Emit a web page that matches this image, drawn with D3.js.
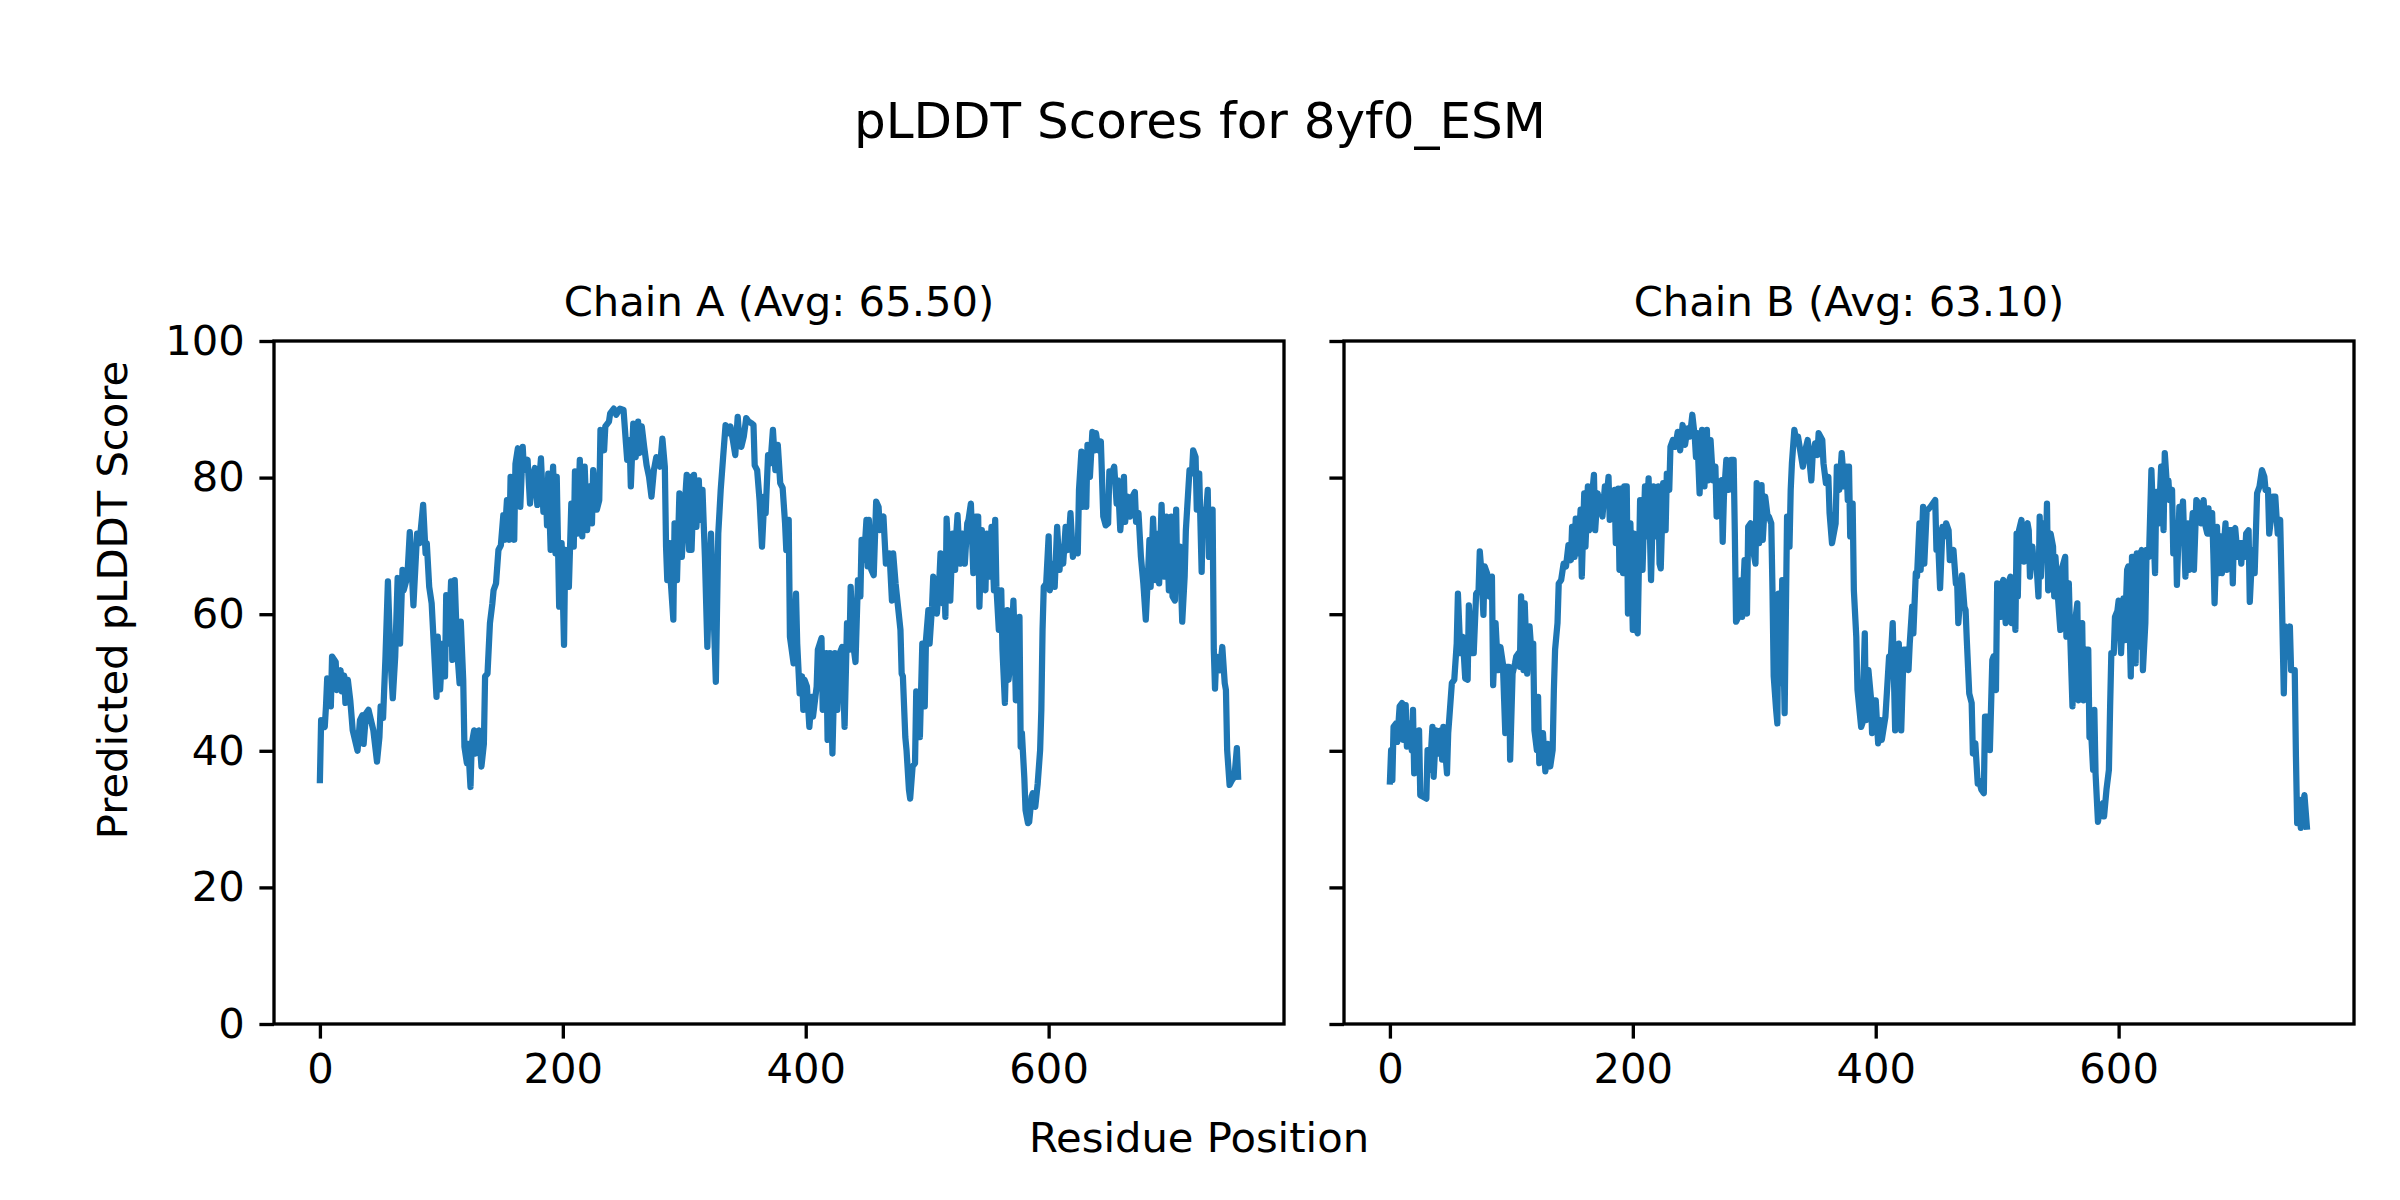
<!DOCTYPE html>
<html><head><meta charset="utf-8">
<script src="https://cdn.jsdelivr.net/npm/d3@7"></script>
<style>body{margin:0;background:#fff}svg{display:block}</style>
</head><body>
<svg id="chart" width="2400" height="1200"></svg>
<script>
const figTitle = "pLDDT Scores for 8yf0_ESM";
const chainTitles = ["Chain A (Avg: 65.50)", "Chain B (Avg: 63.10)"];
const xLabel = "Residue Position";
const yLabel = "Predicted pLDDT Score";
const xTicks = [0, 200, 400, 600];
const yTicks = [0, 20, 40, 60, 80, 100];

// [residue, pLDDT]
const chainA = [[0,35.7],[1,44.5],[4,43.5],[5,46.5],[6,50.6],[9,46.5],[10,53.8],[13,53],[14,48.9],[17,51.8],[18,48.7],[20,51],[21,47],[23,50.4],[25,47.4],[27,43],[31,40],[33,44.5],[35,45.2],[36,41],[38,45.5],[40,46],[44,43],[47,38.4],[49,42],[50,46.5],[52,44.8],[54,53.8],[56,64.8],[58,53.8],[60,47.7],[62,53.8],[64,65.3],[66,55.7],[68,66.5],[69,63.5],[72,65.5],[74,72],[76,65],[77,61.3],[80,71.8],[82,70.4],[85,76],[87,68.9],[88,70.4],[90,64],[92,61.6],[94,54.8],[96,47.9],[97,56.7],[99,49],[101,55.7],[103,50.9],[104,62.8],[106,55.7],[108,64.8],[109,53.3],[111,65],[113,54.8],[115,49.9],[116,58.9],[118,50.4],[119,40.6],[121,38.2],[122,41],[124,34.7],[125,41],[127,43],[128,39.6],[131,43],[133,37.7],[135,41],[136,50.9],[138,51.3],[140,58.7],[142,61.6],[143,63.5],[145,64.5],[147,69.4],[149,70.1],[151,74.5],[152,70.9],[154,76.7],[156,70.9],[157,80.1],[160,70.9],[161,82],[163,84.3],[165,75.7],[167,84.5],[168,81.1],[171,82.6],[173,76.2],[175,80.1],[177,81.4],[179,76],[182,82.8],[184,75],[186,78.2],[187,73],[188,80.6],[190,69.4],
[191,77.7],[192,81.6],[194,68.9],[195,80.1],[197,61.1],[199,70.4],[201,55.5],[202,69.4],[205,64],[207,76.2],[209,69.9],[210,80.9],[212,71.8],[214,82.6],[216,71.4],[218,81.6],[220,72.3],[222,78.7],[224,73.3],[225,81.1],[228,75.3],[230,76.7],[231,87],[234,84],[235,87.5],[238,88.2],[239,89.4],[242,90.1],[244,89.2],[247,90.1],[250,89.9],[252,85],[253,82.6],[255,85.5],[256,78.7],[258,87.9],[260,83],[262,88.2],[263,83.6],[265,87.5],[267,84.5],[269,81.8],[271,80.1],[273,77.2],[275,81.1],[277,83],[280,81.6],[282,85.7],[284,81.6],[285,69.9],[286,65],[288,70.4],[289,64.5],[291,59.2],[292,73.3],[294,65],[296,77.7],[298,68.4],[300,74.8],[302,80.4],[304,69.4],[305,80.1],[306,69.4],[308,80.4],[310,72.8],[312,79.6],[313,73.8],[315,78.2],[317,68.4],[319,55.2],[320,61.1],[322,71.8],[324,61.1],[326,50.1],[328,71.8],[330,78.2],[332,83],[334,87.7],[336,86.5],[338,87.5],[340,85.5],[342,83.3],[344,88.9],[345,86.5],[347,84.5],[349,86],[351,88.7],[353,88.2],[355,88],[357,87.7],[358,81.8],[360,81.1],[362,76.7],[364,69.9],[366,77.2],[367,74.8],[369,83.3],[371,82.1],[373,87],[375,81.1],[377,84.8],[379,79.2],[381,78.5],[383,73.3],[384,69.4],[386,73.8],[387,56.7],
[390,52.8],[392,63],[393,55.7],[395,48.4],[397,50.9],[398,46],[399,50.4],[401,49.4],[403,43.5],[405,47.9],[406,45],[409,49.4],[410,54.8],[413,56.5],[414,46],[417,54.3],[418,41.6],[420,54.3],[422,39.6],[424,54.3],[426,46],[428,54.3],[430,55.2],[432,43.5],[434,58.7],[436,54.8],[437,64],[439,55.7],[441,53],[443,65],[445,62.6],[446,70.9],[448,67.9],[450,73.8],[451,67],[452,73.8],[454,66.5],[456,65.7],[458,76.5],[460,75.7],[461,72.3],[462,73.8],[464,74.3],[466,67.4],[469,68.9],[471,62],[472,68.9],[474,64.5],[476,61.1],[478,57.7],[479,51.3],[480,50.9],[482,42],[483,40.1],[485,34.3],[486,33],[488,37.7],[490,38.2],[491,48.7],[493,48.4],[494,42],[496,55.7],[498,46.5],[499,56.2],[501,60.6],[502,55.7],[504,61.1],[505,65.5],[506,64.5],[508,60.1],[510,65],[511,68.9],[513,61.6],[514,65.5],[515,59.6],[516,74],[518,67],[519,62],[521,71.8],[523,66.5],[524,71.8],[525,74.5],[527,67.4],[529,71.8],[531,67.4],[533,73.3],[534,73.8],[536,76.2],[538,66],[539,72.3],[540,74.3],[542,74.3],[543,61.1],[545,72.3],[546,65.5],[548,63.5],[549,71.8],[551,65.5],[553,72.8],[555,63.5],[556,73.8],[557,64],[559,57.7],[561,63.5],[562,54.8],[564,47],[566,60.6],[567,50.4],[569,53.8],[571,62],[572,56.2],[573,47.4],[576,59.6],[577,40.6],[578,42.6],[580,36],[581,31.3],[583,29.4],
[584,29.6],[586,33.3],[587,33.8],[589,31.8],[591,35.2],[593,40.1],[594,46],[595,57.7],[596,64],[598,64.5],[600,71.4],[601,63.5],[604,67.4],[605,64],[607,72.8],[609,66.5],[610,69.9],[612,67.4],[614,72.8],[616,69.4],[618,74.8],[620,68.4],[622,70.4],[624,68.9],[625,78.2],[627,83.8],[628,75.7],[630,83.1],[631,75.7],[632,84.8],[634,80.1],[636,86.7],[638,84],[639,86.5],[641,84],[643,85.3],[645,74.3],[647,73],[649,73.3],[650,80.9],[652,80.6],[654,81.6],[656,76.2],[657,79.6],[659,72.3],[661,76.7],[662,80.1],[663,73.5],[665,77.2],[667,74.3],[669,77.2],[671,77.9],[672,73.5],[674,74.8],[676,68.4],[678,64.5],[680,59.2],[682,66.5],[683,70.9],[684,64],[686,74],[688,65],[690,71.8],[691,64.5],[693,76],[695,65.5],[697,74.3],[699,63.5],[701,74.3],[702,62.6],[704,62],[705,75.3],[706,64.5],[708,69.9],[710,58.9],[712,65.5],[713,72.3],[715,78.2],[716,81.1],[718,80.6],[719,84],[721,83],[722,75.3],[724,80.6],[726,66.2],[727,75.3],[729,73.3],[731,78.2],[732,68.4],[735,75.3],[736,54.8],[737,49.1],[738,53.8],[741,51.8],[743,55.2],[745,49.9],[746,48.9],[747,40.1],[749,35],[751,35.7],[753,36.2],[755,40.4],[756,36.2]];

const chainB = [[0,35.5],[1,40.1],[2,35.7],[3,43.5],[5,44],[6,41.3],[8,46.5],[10,47],[11,41.6],[13,46.7],[14,40.6],[16,44],[18,40.1],[19,46],[20,36.7],[22,40.1],[24,43],[25,33.5],[27,33.3],[30,33],[31,40.1],[33,37.2],[35,43.5],[36,36.2],[38,43],[40,39.6],[42,43],[43,38.7],[44,43.5],[47,36.7],[48,42.6],[49,45],[51,49.9],[53,50.4],[55,55.7],[56,63],[58,54.3],[60,56.7],[62,50.6],[64,50.4],[65,61.3],[67,54.3],[69,54.3],[71,63],[73,63.5],[74,69.2],[75,67],[77,59.9],[78,67],[80,66],[82,62.6],[84,65.5],[85,49.6],[87,58.7],[89,51.8],[91,55.2],[93,52.8],[95,42.6],[96,52.3],[98,52.3],[99,38.7],[101,51.3],[103,52.8],[104,53.8],[106,54.3],[107,52.3],[108,62.6],[110,51.8],[111,61.6],[113,51.3],[115,58.2],[116,55.7],[118,55.7],[119,43],[121,40.1],[122,47.9],[123,38.2],[125,42.6],[126,42.6],[128,37],[130,41],[132,37.7],[134,40.1],[135,48.9],[136,54.8],[138,58.7],[139,64.5],[141,65],[143,67.4],[145,67],[147,70.1],[149,67.9],[150,72.8],[152,68.4],[153,74],[155,68.9],[157,75.3],[158,65.5],[160,77.7],[161,69.9],[163,78.7],[164,72.3],[166,76.7],[168,80.4],[169,72.3],[171,77.7],[173,76.2],[175,74.3],[177,78.7],[179,78.2],[180,80.1],[181,73.8],[183,76.7],[185,78.2],[186,70.4],[188,78.4],[189,66.5],
[190,78.4],[192,66],[193,78.7],[195,78.7],[196,60.1],[198,73.3],[200,57.7],[201,71.8],[203,57.7],[204,57.2],[206,76.7],[208,66.5],[210,78.7],[211,71.4],[213,79.9],[215,65],[217,78.7],[219,71.4],[221,78.7],[222,67.4],[223,66.7],[225,79.2],[227,72.3],[228,80.6],[230,78.2],[231,84.5],[233,85.5],[235,84.5],[237,86.7],[239,84],[241,87.7],[243,84.8],[245,87.2],[247,86],[249,89.2],[251,86],[252,83],[253,86.5],[255,77.7],[257,87],[259,78.7],[261,87],[262,79.6],[264,85.5],[266,79.6],[268,81.6],[269,74.3],[271,79.2],[273,79.6],[274,70.6],[275,77.2],[277,82.6],[279,78.2],[281,82.6],[283,82.6],[284,71.8],[285,58.9],[287,59.6],[289,65],[290,59.6],[292,67.9],[294,60.1],[295,72.8],[297,73.3],[299,69.4],[301,67.4],[302,79.2],[304,70.4],[306,78.9],[307,70.9],[309,77.2],[311,74.3],[312,74.3],[314,73.3],[315,63.5],[316,50.9],[318,46],[319,44],[320,63],[322,49.9],[323,65],[325,45.5],[327,74.3],[329,69.9],[330,78.2],[331,82.1],[333,87],[335,85],[336,86],[338,83.8],[340,81.6],[342,84],[344,85.5],[345,83.3],[347,79.6],[348,83],[350,85],[352,83.3],[353,86.5],[356,85.5],[357,82.1],[359,79.2],[361,80.1],[362,74.8],[364,70.4],[367,73.3],[368,81.6],[370,78.2],[372,83.6],[374,78.7],[376,81.6],[377,76.7],[378,81.6],[379,71.4],[381,76.2],[382,63.5],[384,56.7],[385,48.9],
[388,43.5],[389,44],[391,57.2],[392,44.5],[394,51.8],[396,47.9],[397,42.6],[399,47.4],[400,47.4],[402,41.1],[404,44.5],[405,41.6],[408,45],[410,50.9],[411,53.8],[412,52.3],[414,58.7],[416,43],[418,54.3],[419,55.7],[421,43],[423,54.8],[425,54.8],[427,51.8],[428,55.7],[430,61.1],[431,57.2],[433,66],[434,65.5],[436,73.3],[437,66.5],[439,75.7],[440,67.4],[442,75.3],[443,75.3],[445,75.7],[447,76.2],[449,76.7],[450,69.4],[451,72.3],[453,63.8],[455,72.8],[457,71.4],[458,73.3],[460,72.3],[461,67.9],[462,68.9],[464,69.4],[466,64.5],[467,65],[468,58.7],[471,65.7],[473,61.1],[474,60.6],[475,56.2],[477,48.4],[479,47],[480,39.6],[482,41.1],[484,35.2],[485,35.7],[487,34.3],[489,33.8],[490,45],[493,45],[494,40.1],[496,53.3],[497,53.8],[499,48.9],[500,64.5],[501,64],[503,59.6],[504,64.5],[505,65],[507,58.7],[509,64.5],[511,65.5],[512,58.7],[514,63.5],[515,57.7],[516,71.8],[517,62.6],[518,72.3],[520,73.8],[522,67.7],[523,72.8],[525,73.3],[526,72.3],[527,65.5],[529,69.9],[530,67.4],[532,68.4],[534,62.6],[535,74.3],[536,65.5],[538,73.3],[540,68.4],[541,76.2],[542,63.5],[544,71.8],[546,69.9],[547,62.6],[548,68.4],[550,62.6],[552,57.7],[553,66.5],[556,68.4],[557,56.7],[559,64.5],[560,57.7],[562,46.5],[564,58.7],[566,61.6],[567,47.4],[568,55.2],[570,58.7],[571,47.4],[573,54.8],[575,54.8],[576,42],[577,44],[579,37.2],[580,46],[581,36.7],[583,29.6],
[585,31.8],[587,32.3],[588,30.4],[590,34.3],[592,37.2],[593,46.5],[594,54.3],[596,54.3],[597,59.6],[599,60.5],[600,62],[602,54.3],[604,62.3],[605,56.2],[607,66.5],[608,67],[610,50.9],[611,68.4],[612,68.4],[614,52.8],[615,68.9],[616,55.2],[618,68.4],[619,69.4],[620,51.8],[622,58.7],[623,69.4],[625,68.4],[627,81.1],[629,70.9],[630,66],[631,77.9],[633,73.3],[635,81.6],[637,72.3],[638,83.6],[640,78.2],[641,79.6],[642,76.7],[644,78.2],[645,68.9],[647,73.3],[648,64.3],[650,75.7],[651,72.3],[653,76.5],[655,65.5],[657,73.3],[658,66.5],[660,72.3],[661,74.8],[662,66.5],[664,76.7],[666,76.2],[668,73.3],[670,76.7],[671,73.3],[673,71.8],[674,75.5],[675,71.8],[677,74.8],[678,68.9],[679,61.6],[681,72.8],[682,66],[684,71.4],[685,66],[686,68.4],[688,73.3],[689,66.5],[690,72.3],[693,72.3],[694,64.5],[695,72.3],[696,72.6],[698,68.4],[700,70.4],[701,67.4],[702,70.4],[704,68.4],[705,71.8],[707,72.3],[708,61.8],[709,65.5],[711,69.4],[712,66],[714,77.7],[716,78.7],[718,81.1],[720,80.1],[721,78.2],[723,78.2],[724,71.8],[726,74.8],[727,77.2],[729,77.2],[730,74.3],[731,71.8],[733,73.8],[734,66],[736,48.4],[737,58.2],[739,53.8],[741,58.2],[742,51.8],[745,51.8],[746,39.1],[747,29.4],[749,32.8],[750,28.7],[752,32.3],[753,33.5],[755,28.9]];

const FONT = "DejaVu Sans, Liberation Sans, sans-serif";
const LINE_COLOR = "#1f77b4";
const svg = d3.select("#chart");
svg.append("rect").attr("width", 2400).attr("height", 1200).attr("fill", "#fff");

const axTop = 341, axBottom = 1024;
const panels = [
  {x0: 274, x1: 1284, data: chainA, title: chainTitles[0], labels: true},
  {x0: 1344, x1: 2354, data: chainB, title: chainTitles[1], labels: false}
];
const xMax = 756, xPad = 0.05 * xMax;
const y = d3.scaleLinear().domain([0, 100]).range([axBottom, axTop]);
const TICK = 14.6, FS = 41.7, SW = 3.33;

panels.forEach(p => {
  const x = d3.scaleLinear().domain([-xPad, xMax + xPad]).range([p.x0, p.x1]);
  const g = svg.append("g");

  const line = d3.line().x(d => x(d[0])).y(d => y(d[1]));
  g.append("path").datum(p.data)
    .attr("d", line).attr("fill", "none").attr("stroke", LINE_COLOR)
    .attr("stroke-width", 6.25).attr("stroke-linejoin", "round").attr("stroke-linecap", "square");

  const xa = g.append("g").attr("transform", `translate(0,${axBottom})`)
    .call(d3.axisBottom(x).tickValues(xTicks).tickSize(TICK).tickPadding(TICK).tickFormat(d3.format("d")));
  const ya = g.append("g").attr("transform", `translate(${p.x0},0)`)
    .call(d3.axisLeft(y).tickValues(yTicks).tickSize(TICK).tickPadding(TICK)
      .tickFormat(p.labels ? d3.format("d") : () => ""));
  [xa, ya].forEach(a => {
    a.select(".domain").remove();
    a.selectAll(".tick line").attr("stroke", "#000").attr("stroke-width", SW);
    a.selectAll(".tick text").attr("fill", "#000").style("font-family", FONT).style("font-size", FS + "px");
  });

  g.append("rect").attr("x", p.x0).attr("y", axTop)
    .attr("width", p.x1 - p.x0).attr("height", axBottom - axTop)
    .attr("fill", "none").attr("stroke", "#000").attr("stroke-width", SW);

  g.append("text").attr("x", (p.x0 + p.x1) / 2).attr("y", 316)
    .attr("text-anchor", "middle").style("font-family", FONT).style("font-size", FS + "px")
    .text(p.title);
});

svg.append("text").attr("x", 1200).attr("y", 138).attr("text-anchor", "middle")
  .style("font-family", FONT).style("font-size", "50px").text(figTitle);
svg.append("text").attr("x", 1199).attr("y", 1152).attr("text-anchor", "middle")
  .style("font-family", FONT).style("font-size", FS + "px").text(xLabel);
svg.append("text").attr("transform", "translate(127,600) rotate(-90)").attr("text-anchor", "middle")
  .style("font-family", FONT).style("font-size", FS + "px").text(yLabel);
</script>
</body></html>
